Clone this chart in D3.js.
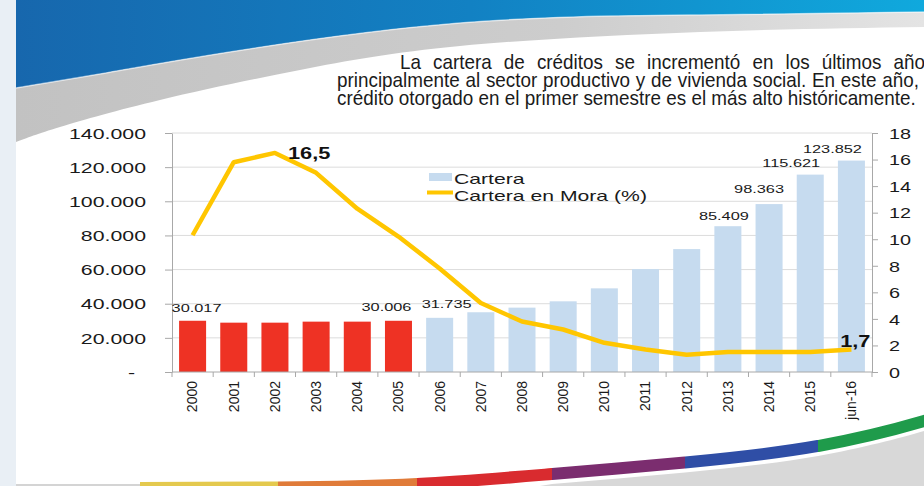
<!DOCTYPE html>
<html>
<head>
<meta charset="utf-8">
<script src="https://cdn.jsdelivr.net/npm/d3@7"></script>
<style>
  html, body { margin: 0; padding: 0; background: #fff; }
  svg { display: block; }
</style>
</head>
<body>
<script>
// ---------------- DATA ----------------
const categories = ["2000","2001","2002","2003","2004","2005","2006","2007","2008","2009","2010","2011","2012","2013","2014","2015","jun-16"];
const cartera = [30017, 28900, 28900, 29500, 29500, 30006, 31735, 35000, 37700, 41400, 49000, 60300, 72000, 85409, 98363, 115621, 123852];
const mora = [10.3, 15.8, 16.5, 15.0, 12.3, 10.2, 7.8, 5.2, 3.8, 3.2, 2.2, 1.7, 1.3, 1.5, 1.5, 1.5, 1.7];
const leftTicks = [0, 20000, 40000, 60000, 80000, 100000, 120000, 140000];
const rightTicks = [0, 2, 4, 6, 8, 10, 12, 14, 16, 18];
const redYears = ["2000","2001","2002","2003","2004","2005"];
const barLabelCats = ["2000","2005","2006","2013","2014","2015","jun-16"];
const moraLabelCats = ["2002","jun-16"];
const seriesNames = ["Cartera", "Cartera en Mora (%)"];
const paragraph = [
  "La cartera de créditos se incrementó en los últimos años",
  "principalmente al sector productivo y de vivienda social. En este año,",
  "crédito otorgado en el primer semestre es el más alto históricamente."
];

// ---------------- STYLE / LAYOUT ----------------
const W = 924, H = 486;
const plot = { left: 172, right: 872, top: 133, bottom: 372 };
const colRed = "#ee3224", colBlue = "#c6dbef", colLine = "#ffc600";
const chartFont = "'Liberation Sans', Arial, sans-serif";
const STR = 1.42; // horizontal stretch of the source image text
const barLabelNudge = { "2000": [4, 9], "2005": [-12, 10], "2006": [7, 9.5], "2013": [-4, 6], "2014": [-10, 11], "2015": [-19, 8], "jun-16": [-19, 8] };

const loc = d3.formatLocale({ decimal: ",", thousands: ".", grouping: [3], currency: ["", ""] });
const fmtThousands = loc.format(",d");
const fmtPct = loc.format(",.1f");

function stretch(sel, f) {
  sel.each(function () {
    const w = this.getComputedTextLength();
    if (w > 0) {
      this.setAttribute("textLength", w * f);
      this.setAttribute("lengthAdjust", "spacingAndGlyphs");
    }
  });
}

const svg = d3.select("body").append("svg").attr("width", W).attr("height", H);
const defs = svg.append("defs");

// ---------------- BACKGROUND DECORATION ----------------
const gBlue = defs.append("linearGradient").attr("id", "gBlue").attr("x1", 0).attr("x2", 1).attr("y1", 0).attr("y2", 0);
gBlue.append("stop").attr("offset", "0%").attr("stop-color", "#1767ad");
gBlue.append("stop").attr("offset", "50%").attr("stop-color", "#1281c3");
gBlue.append("stop").attr("offset", "100%").attr("stop-color", "#10a9dd");
const gGray = defs.append("linearGradient").attr("id", "gGray").attr("x1", 0).attr("x2", 1).attr("y1", 0).attr("y2", 0);
gGray.append("stop").attr("offset", "0%").attr("stop-color", "#c2c2c2");
gGray.append("stop").attr("offset", "60%").attr("stop-color", "#cdcdcd");
gGray.append("stop").attr("offset", "100%").attr("stop-color", "#e4e4e4");

const curve = d3.line().curve(d3.curveNatural);
const upperEdge = [[16, 88], [100, 74], [230, 52], [460, 23], [700, 15], [924, 12]];
const lowerEdge = [[16, 142], [60, 127], [160, 100], [300, 70], [460, 46], [700, 32], [924, 27]];

svg.append("path")
  .attr("d", "M16,0 L924,0 L" + curve(upperEdge.slice().reverse()).slice(1) + " Z")
  .attr("fill", "url(#gBlue)");
svg.append("path")
  .attr("d", curve(upperEdge) + " L" + curve(lowerEdge.slice().reverse()).slice(1) + " Z")
  .attr("fill", "url(#gGray)");
svg.append("path").attr("d", curve(upperEdge)).attr("fill", "none")
  .attr("stroke", "#ffffff").attr("stroke-opacity", 0.55).attr("stroke-width", 1.5);

// bottom rainbow arc
const arcPts = [[120, 488], [278, 487.5], [417, 484], [552, 474], [685, 462.5], [818, 446], [924, 421], [960, 408]];
const grayPts = arcPts.filter(p => p[0] >= 540).map(p => [p[0], p[1] + 10]);
svg.append("path")
  .attr("d", curve(grayPts) + " L960,486 L540,486 Z")
  .attr("fill", "#d8d8d8");
const arcBreaks = [140, 278, 417, 552, 685, 818, 930];
const arcColors = ["#e4c94e", "#e07b39", "#d92b2f", "#7b2d6f", "#2f4ea6", "#1f9b4b"];
arcColors.forEach((c, i) => {
  defs.append("clipPath").attr("id", "arcClip" + i)
    .append("rect").attr("x", arcBreaks[i]).attr("y", 380).attr("width", arcBreaks[i + 1] - arcBreaks[i]).attr("height", 110);
  svg.append("path").attr("d", curve(arcPts)).attr("fill", "none")
    .attr("stroke", c).attr("stroke-width", 12).attr("clip-path", "url(#arcClip" + i + ")");
});
svg.append("rect").attr("x", 16).attr("y", 484).attr("width", 124).attr("height", 2).attr("fill", "#d4d4d4");

// left strip
svg.append("rect").attr("x", 0).attr("y", 0).attr("width", 16).attr("height", H).attr("fill", "#e9eff5");

// ---------------- PARAGRAPH ----------------
const pFont = "'Liberation Sans Narrow', 'Arial Narrow', 'Liberation Sans', Arial, sans-serif";
const pSize = 20;
const pg = svg.append("g").attr("font-family", pFont).attr("font-size", pSize).attr("fill", "#1b1b1b");
function measure(str) {
  const t = pg.append("text").text(str);
  const w = t.node().getComputedTextLength();
  t.remove();
  return w;
}
const spaceW = measure("a a") - measure("aa");
const scaleP = 579 / measure(paragraph[2]);          // condense factor from the last line
const pgs = pg.append("g").attr("transform", `scale(${scaleP},1)`);
const sW = (measure("años") - measure("año")) * scaleP;
const lineSpecs = [
  { x0: 400, x1: 925 + sW, y: 69, justify: true },
  { x0: 337, x1: 919, y: 87, justify: true },
  { x0: 337, x1: null, y: 105, justify: false }
];
paragraph.forEach((line, li) => {
  const spec = lineSpecs[li];
  const words = line.split(" ");
  const widths = words.map(w => measure(w) * scaleP);
  const total = d3.sum(widths);
  const gap = spec.justify ? Math.max(spaceW * scaleP, (spec.x1 - spec.x0 - total) / (words.length - 1)) : spaceW * scaleP;
  const t = pgs.append("text").attr("y", spec.y);
  if (spec.justify) {
    let xx = spec.x0;
    words.forEach((w, i) => {
      t.append("tspan").attr("x", xx / scaleP).text(w);
      xx += widths[i] + gap;
    });
  } else {
    t.attr("x", spec.x0 / scaleP).text(line);
  }
});

// ---------------- SCALES ----------------
const x = d3.scaleBand().domain(categories).range([plot.left, plot.right]).paddingInner(0.344).paddingOuter(0.172);
const yL = d3.scaleLinear().domain([0, 140000]).range([plot.bottom, plot.top]);
const yR = d3.scaleLinear().domain([0, 18]).range([plot.bottom, plot.top]);
const cx = c => x(c) + x.bandwidth() / 2;

const chart = svg.append("g").attr("font-family", chartFont);

// gridlines
chart.append("g").selectAll("line").data(leftTicks.filter(d => d > 0)).join("line")
  .attr("x1", plot.left).attr("x2", plot.right)
  .attr("y1", d => yL(d)).attr("y2", d => yL(d))
  .attr("stroke", "#dcdcdc").attr("stroke-width", 1);

// bars
chart.append("g").selectAll("rect").data(categories).join("rect")
  .attr("x", d => x(d)).attr("width", x.bandwidth())
  .attr("y", (d, i) => yL(cartera[i])).attr("height", (d, i) => yL(0) - yL(cartera[i]))
  .attr("fill", d => redYears.includes(d) ? colRed : colBlue);

// left axis
const axL = chart.append("g").attr("transform", `translate(${plot.left},0)`)
  .call(d3.axisLeft(yL).tickValues(leftTicks).tickSize(7).tickSizeOuter(0).tickPadding(19)
    .tickFormat(d => d === 0 ? "-" : fmtThousands(d)));
axL.select(".domain").attr("stroke", "#a8a8a8");
axL.selectAll(".tick line").attr("stroke", "#a8a8a8");
axL.selectAll("text").attr("font-size", 15).attr("fill", "#1a1a1a").attr("font-family", chartFont)
  .attr("dx", d => d === 0 ? -11 : 0).attr("dy", "0.35em");
stretch(axL.selectAll("text"), STR);

// right axis
const axR = chart.append("g").attr("transform", `translate(${plot.right},0)`)
  .call(d3.axisRight(yR).tickValues(rightTicks).tickSize(6).tickSizeOuter(0).tickPadding(11));
axR.select(".domain").attr("stroke", "#a8a8a8");
axR.selectAll(".tick line").attr("stroke", "#a8a8a8");
axR.selectAll("text").attr("font-size", 15).attr("fill", "#1a1a1a").attr("font-family", chartFont).attr("dy", "0.35em");
stretch(axR.selectAll("text"), 1.32);

// bottom axis
const axB = chart.append("g").attr("transform", `translate(0,${plot.bottom})`);
axB.append("line").attr("x1", plot.left).attr("x2", plot.right).attr("y1", 0).attr("y2", 0).attr("stroke", "#a8a8a8");
const boundaries = categories.map(c => x(c) - x.step() * x.paddingInner() / 2).concat([plot.right]);
axB.selectAll("line.bt").data(boundaries).join("line").attr("class", "bt")
  .attr("x1", d => d).attr("x2", d => d).attr("y1", 0).attr("y2", 5).attr("stroke", "#a8a8a8");
axB.selectAll("text").data(categories).join("text")
  .attr("transform", d => `translate(${cx(d)},9) rotate(-90)`)
  .attr("text-anchor", "end").attr("dy", "0.35em")
  .attr("font-size", 14).attr("fill", "#1a1a1a")
  .text(d => d);

// line
const lineGen = d3.line().x((d, i) => cx(categories[i])).y(d => yR(d));
chart.append("path").datum(mora).attr("d", lineGen)
  .attr("fill", "none").attr("stroke", colLine).attr("stroke-width", 4.5)
  .attr("stroke-linejoin", "round").attr("stroke-linecap", "butt");

// bar value labels
const bl = chart.append("g").selectAll("text").data(barLabelCats).join("text")
  .attr("x", d => cx(d) + barLabelNudge[d][0])
  .attr("y", d => yL(cartera[categories.indexOf(d)]) - barLabelNudge[d][1])
  .attr("text-anchor", "middle").attr("font-size", 11.5).attr("fill", "#1a1a1a")
  .text(d => fmtThousands(cartera[categories.indexOf(d)]));
stretch(bl, STR);

// mora labels
const ml = chart.append("g").selectAll("text").data(moraLabelCats).join("text")
  .attr("x", (d, i) => i === 0 ? cx(d) + 13 : cx(d) + 19)
  .attr("y", (d, i) => yR(mora[categories.indexOf(d)]) + (i === 0 ? 6 : -2.5))
  .attr("text-anchor", (d, i) => i === 0 ? "start" : "end")
  .attr("font-size", 16).attr("font-weight", "bold").attr("fill", "#111")
  .text(d => fmtPct(mora[categories.indexOf(d)]));
stretch(ml, 1.36);

// legend
const lg = chart.append("g");
lg.append("rect").attr("x", 429).attr("y", 173).attr("width", 23).attr("height", 8).attr("fill", colBlue);
lg.append("line").attr("x1", 427).attr("x2", 453).attr("y1", 192.5).attr("y2", 192.5)
  .attr("stroke", colLine).attr("stroke-width", 4);
const lt = lg.selectAll("text").data(seriesNames).join("text")
  .attr("x", 454).attr("y", (d, i) => i === 0 ? 183.5 : 201)
  .attr("font-size", 14.5).attr("fill", "#1a1a1a").text(d => d);
stretch(lt, 1.46);
</script>
</body>
</html>
